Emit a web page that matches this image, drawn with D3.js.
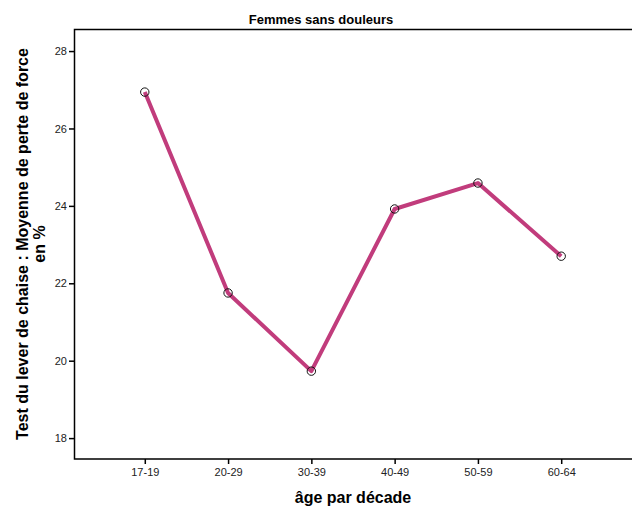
<!DOCTYPE html>
<html>
<head>
<meta charset="utf-8">
<script src="https://cdn.jsdelivr.net/npm/d3@7"></script>
<style>
  body { margin: 0; background: #fff; }
  text { font-family: "Liberation Sans", Arial, sans-serif; }
</style>
</head>
<body>
<div class="chart"></div>
<script>
const ageGroups = ["17-19", "20-29", "30-39", "40-49", "50-59", "60-64"];
const forceLoss = [26.94, 21.75, 19.73, 23.92, 24.59, 22.70];
const yTicks = [18, 20, 22, 24, 26, 28];

const svgWidth = 632, svgHeight = 508;
const margin = {top: 29, right: 0, bottom: 49, left: 74};
const width = svgWidth - margin.left - margin.right,
      height = svgHeight - margin.top - margin.bottom;

const data = ageGroups.map((a, i) => ({age: a, value: forceLoss[i]}));

const svg = d3.select(".chart").append("svg")
    .attr("width", svgWidth)
    .attr("height", svgHeight);

const g = svg.append("g")
    .attr("transform", "translate(" + margin.left + "," + margin.top + ")");

// scales
const x = d3.scalePoint().domain(ageGroups).range([0, width]).padding(0.85);
const y = d3.scaleLinear().domain([17.46, 28.57]).range([height, 0]);

// frame (top + left + bottom)
g.append("path")
    .attr("d", "M" + (width + 2) + ",0.5H0.5V" + height + "H" + (width + 2))
    .attr("fill", "none")
    .attr("stroke", "#000")
    .attr("stroke-width", 1.5);

// axes
const xAxis = d3.axisBottom(x).tickSize(5).tickPadding(4);
const yAxis = d3.axisLeft(y).tickValues(yTicks).tickSize(5).tickPadding(2);

const gx = g.append("g")
    .attr("transform", "translate(0," + height + ")")
    .call(xAxis);
const gy = g.append("g").call(yAxis);

[gx, gy].forEach(ax => {
  ax.select(".domain").remove();
  ax.selectAll(".tick line").attr("stroke", "#000").attr("stroke-width", 1.5);
  ax.selectAll(".tick text")
    .attr("fill", "#222")
    .style("font-size", "11px")
    .style("font-family", "'Liberation Sans', Arial, sans-serif");
});

// line
const line = d3.line()
    .x(d => x(d.age))
    .y(d => y(d.value));

g.append("path")
    .datum(data)
    .attr("fill", "none")
    .attr("stroke", "#c13c7c")
    .attr("stroke-width", 4)
    .attr("stroke-linejoin", "round")
    .attr("d", line);

// markers
g.selectAll(".dot")
    .data(data)
  .enter().append("circle")
    .attr("class", "dot")
    .attr("cx", d => x(d.age))
    .attr("cy", d => y(d.value))
    .attr("r", 4.2)
    .attr("fill", "none")
    .attr("stroke", "#111")
    .attr("stroke-width", 1);

// title
svg.append("text")
    .attr("x", 321)
    .attr("y", 24)
    .attr("text-anchor", "middle")
    .style("font-size", "13px")
    .style("font-weight", "bold")
    .text("Femmes sans douleurs");

// x label
svg.append("text")
    .attr("x", margin.left + width / 2)
    .attr("y", 503)
    .attr("text-anchor", "middle")
    .style("font-size", "16px")
    .style("font-weight", "bold")
    .text("âge par décade");

// y label
const yl = svg.append("text")
    .attr("transform", "translate(28," + (margin.top + height / 2) + ") rotate(-90)")
    .attr("text-anchor", "middle")
    .style("font-size", "16px")
    .style("font-weight", "bold");
yl.append("tspan").attr("x", 0).attr("dy", 0)
    .text("Test du lever de chaise : Moyenne de perte de force");
yl.append("tspan").attr("x", 0).attr("dy", 17)
    .text("en %");
</script>
</body>
</html>
